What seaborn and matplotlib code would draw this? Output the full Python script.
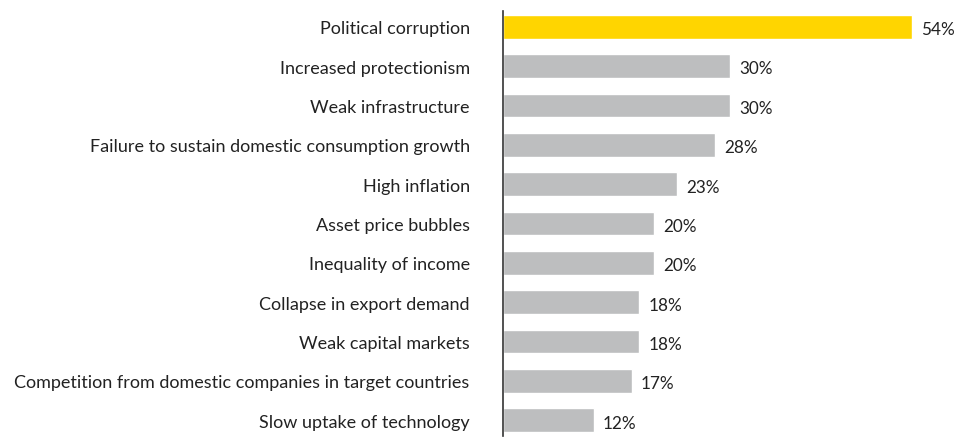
import matplotlib
matplotlib.use("Agg")
import matplotlib.pyplot as plt
import seaborn as sns
import pandas as pd

categories = [
    "Political corruption",
    "Increased protectionism",
    "Weak infrastructure",
    "Failure to sustain domestic consumption growth",
    "High inflation",
    "Asset price bubbles",
    "Inequality of income",
    "Collapse in export demand",
    "Weak capital markets",
    "Competition from domestic companies in target countries",
    "Slow uptake of technology",
]
values = [54, 30, 30, 28, 23, 20, 20, 18, 18, 17, 12]
highlight = "Political corruption"

df = pd.DataFrame({"risk": categories, "pct": values})
palette = {c: ("#FFD500" if c == highlight else "#BDBEBF") for c in categories}

sns.set_theme(style="white")
plt.rcParams["font.family"] = ["Lato", "DejaVu Sans"]

fig = plt.figure(figsize=(9.55, 4.39), dpi=100)
ax = fig.add_axes([503 / 955, 2 / 439, 452 / 955, 425 / 439])

sns.barplot(data=df, x="pct", y="risk", hue="risk", palette=palette,
            order=categories, legend=False, width=0.6, saturation=1,
            ax=ax)

px_per_unit = 7.57
for i, v in enumerate(values):
    ax.text(v + 9 / px_per_unit, i + 0.06, f"{v}%", va="center", ha="left",
            fontsize=12.3, color="#222222")

ax.set_xlim(0, 452 / px_per_unit)
ax.set_ylim(10.4, -0.4)
ax.set_xlabel("")
ax.set_ylabel("")
ax.set_xticks([])
for s in ["top", "right", "bottom"]:
    ax.spines[s].set_visible(False)
ax.spines["left"].set_color("#333333")
ax.spines["left"].set_linewidth(1.2)
ax.tick_params(axis="y", length=0, pad=24, labelsize=13, labelcolor="#222222")

fig.savefig("out.png", dpi=100)
